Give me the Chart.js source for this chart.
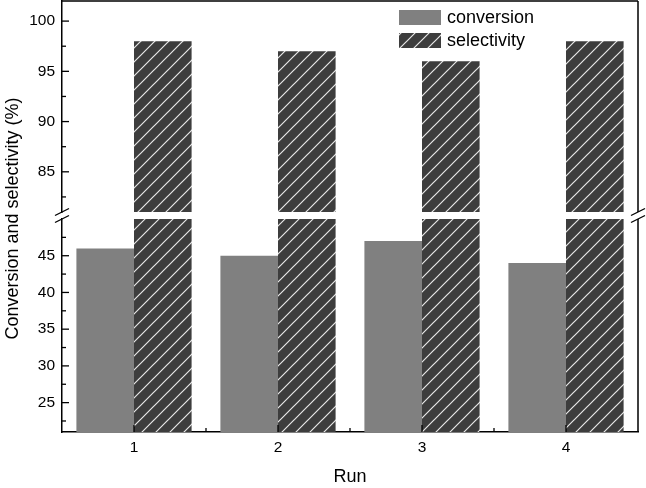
<!DOCTYPE html>
<html>
<head>
<meta charset="utf-8">
<script src="https://cdn.jsdelivr.net/npm/chart.js@4.4.1/dist/chart.umd.min.js"></script>
<style>
  body { margin: 0; background: #fff; }
</style>
</head>
<body>
<canvas id="chart" width="646" height="488"></canvas>
<script>
// values
const runs = [1, 2, 3, 4];
const conversion = [46, 45, 47, 44];
const selectivity = [98, 97, 96, 98];
const seriesNames = ['conversion', 'selectivity'];

// broken y axis: lower and upper segments
const lowRange = [21, 50];
const highRange = [81, 102];
const lowTicks = [25, 30, 35, 40, 45];
const highTicks = [85, 90, 95, 100];

const FONT = "'Liberation Sans', Arial, Helvetica, sans-serif";
Chart.defaults.font.family = FONT;
Chart.defaults.color = '#000';

// white diagonal hatch on dark grey
function hatch(bg, fg, gap) {
    const c = document.createElement('canvas');
    c.width = gap;
    c.height = gap;
    const g = c.getContext('2d');
    g.fillStyle = bg;
    g.fillRect(0, 0, gap, gap);
    g.strokeStyle = fg;
    g.lineWidth = 1.2;
    g.beginPath();
    g.moveTo(-2, gap + 2);
    g.lineTo(gap + 2, -2);
    g.moveTo(-2, 2);
    g.lineTo(2, -2);
    g.moveTo(gap - 2, gap + 2);
    g.lineTo(gap + 2, gap - 2);
    g.stroke();
    return g.createPattern(c, 'repeat');
}
const hatchFill = hatch('#3d3d3d', '#e8e8e8', 14);

const points = vals => runs.map((r, i) => ({ x: r, y: vals[i] }));

// keep each dataset inside its own y segment
const segmentClip = {
    id: 'segmentClip',
    beforeDatasetDraw(chart, args) {
        const ys = args.meta.yScale;
        const a = chart.chartArea;
        chart.ctx.save();
        chart.ctx.beginPath();
        chart.ctx.rect(a.left, ys.top, a.right - a.left, ys.bottom - ys.top);
        chart.ctx.clip();
    },
    afterDatasetDraw(chart) {
        chart.ctx.restore();
    }
};

// inward major + minor tick marks
const innerTicks = {
    id: 'innerTicks',
    afterDatasetsDraw(chart) {
        const ctx = chart.ctx;
        const { left, bottom } = chart.chartArea;
        ctx.save();
        ctx.strokeStyle = '#000';
        ctx.lineWidth = 1.3;
        const mark = (scale, v, len) => {
            const p = scale.getPixelForValue(v);
            ctx.beginPath();
            if (scale.isHorizontal()) {
                ctx.moveTo(p, bottom);
                ctx.lineTo(p, bottom - len);
            } else {
                ctx.moveTo(left, p);
                ctx.lineTo(left + len, p);
            }
            ctx.stroke();
        };
        ['x', 'yLow', 'yHigh'].forEach(id => {
            const s = chart.scales[id];
            const vals = s.ticks.map(t => t.value);
            const half = (vals[1] - vals[0]) / 2;
            vals.forEach(v => mark(s, v, 7));
            [vals[0] - half, ...vals.map(v => v + half)].forEach(v => {
                if (v > s.min && v < s.max) mark(s, v, 4);
            });
        });
        ctx.restore();
    }
};

// top/right frame and the // break marks
const breakFrame = {
    id: 'breakFrame',
    afterDatasetsDraw(chart) {
        const { ctx, chartArea: a, scales } = chart;
        const hi = scales.yHigh, lo = scales.yLow;
        ctx.save();
        ctx.strokeStyle = '#000';
        ctx.lineWidth = 1.5;
        ctx.beginPath();
        ctx.moveTo(a.left, a.top);
        ctx.lineTo(a.right, a.top);
        ctx.moveTo(a.right, hi.top);
        ctx.lineTo(a.right, hi.bottom);
        ctx.moveTo(a.right, lo.top);
        ctx.lineTo(a.right, lo.bottom);
        ctx.stroke();
        ctx.lineWidth = 1.3;
        [a.left, a.right].forEach(x => {
            [hi.bottom, lo.top].forEach(y => {
                ctx.beginPath();
                ctx.moveTo(x - 7, y + 3.5);
                ctx.lineTo(x + 7, y - 3.5);
                ctx.stroke();
            });
        });
        ctx.restore();
    }
};

// legend box in the upper right, plus the shared y title
const boxLegend = {
    id: 'boxLegend',
    afterDraw(chart) {
        const ctx = chart.ctx;
        const a = chart.chartArea;
        const seen = new Set();
        let y = 10;
        ctx.save();
        ctx.font = '18px ' + FONT;
        ctx.textBaseline = 'middle';
        chart.data.datasets.forEach(ds => {
            if (seen.has(ds.label)) return;
            seen.add(ds.label);
            ctx.fillStyle = ds.backgroundColor;
            ctx.fillRect(399, y, 42, 15);
            ctx.fillStyle = '#000';
            ctx.fillText(ds.label, 447, y + 8);
            y += 23;
        });
        ctx.translate(18, (a.top + a.bottom) / 2 + 2);
        ctx.rotate(-Math.PI / 2);
        ctx.textAlign = 'center';
        ctx.textBaseline = 'alphabetic';
        ctx.fillText('Conversion and selectivity (%)', 0, 0);
        ctx.restore();
    }
};

const yCommon = {
    type: 'linear',
    axis: 'y',
    position: 'left',
    stack: 'split',
    bounds: 'data',
    stacked: false,
    afterFit: s => { s.width = 62; s.paddingTop = 0; s.paddingBottom = 0; },
    grid: { display: false, drawTicks: false },
    border: { color: '#000', width: 1.5 },
    ticks: { padding: 7, font: { size: 15.5 }, color: '#000' }
};

new Chart(document.getElementById('chart'), {
    type: 'bar',
    data: {
        datasets: [
            { label: seriesNames[0], data: points(conversion), yAxisID: 'yLow', stack: 'conv', base: lowRange[0], backgroundColor: '#808080' },
            { label: seriesNames[1], data: points(selectivity), yAxisID: 'yLow', stack: 'sel', base: lowRange[0], backgroundColor: hatchFill },
            { label: seriesNames[1], data: points(selectivity), yAxisID: 'yHigh', stack: 'sel', base: highRange[0], backgroundColor: hatchFill }
        ]
    },
    options: {
        responsive: false,
        animation: false,
        layout: { padding: { left: 0, top: 1, right: 8, bottom: 0 } },
        datasets: { bar: { categoryPercentage: 0.8, barPercentage: 1, borderWidth: 0 } },
        plugins: { legend: { display: false }, tooltip: { enabled: false } },
        scales: {
            x: {
                type: 'linear',
                min: 0.5,
                max: 4.5,
                offset: false,
                bounds: 'data',
                afterBuildTicks: s => { s.ticks = runs.map(v => ({ value: v })); },
                afterFit: s => { s.height = 56; s.paddingLeft = 0; s.paddingRight = 0; },
                grid: { display: false, offset: false, drawTicks: false },
                border: { color: '#000', width: 1.5 },
                ticks: { padding: 6, font: { size: 15.5 }, color: '#000', autoSkip: false, maxRotation: 0 },
                title: { display: true, text: 'Run', font: { size: 18 }, color: '#000', padding: { top: 4, bottom: 0 } }
            },
            yLow: {
                ...yCommon,
                stackWeight: 213,
                min: lowRange[0],
                max: lowRange[1],
                afterBuildTicks: s => { s.ticks = lowTicks.map(v => ({ value: v })); }
            },
            yGap: {
                ...yCommon,
                stackWeight: 7,
                min: 0,
                max: 1,
                border: { display: false },
                ticks: { display: false }
            },
            yHigh: {
                ...yCommon,
                stackWeight: 211,
                min: highRange[0],
                max: highRange[1],
                afterBuildTicks: s => { s.ticks = highTicks.map(v => ({ value: v })); }
            }
        }
    },
    plugins: [segmentClip, innerTicks, breakFrame, boxLegend]
});
</script>
</body>
</html>
